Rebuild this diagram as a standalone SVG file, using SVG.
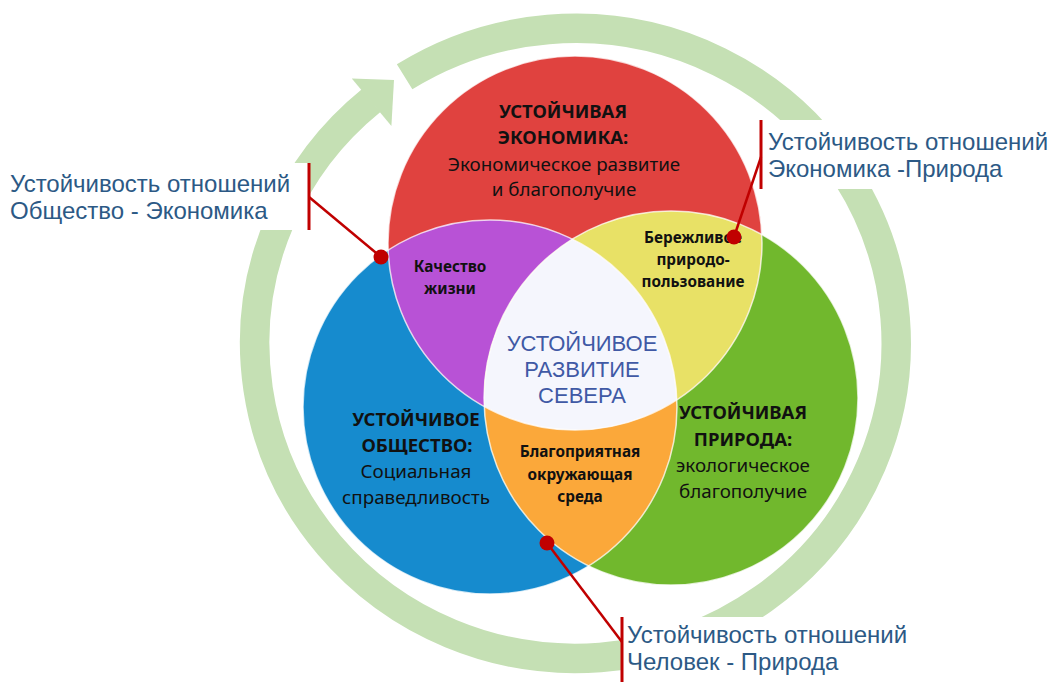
<svg xmlns="http://www.w3.org/2000/svg" width="1054" height="682" viewBox="0 0 1054 682">
<style>
.h{font-family:"Noto Sans","Open Sans",sans-serif;font-weight:700;font-size:18.5px;fill:#111;text-anchor:middle}
.b{font-family:"Noto Sans","Open Sans",sans-serif;font-weight:400;font-size:18.8px;fill:#111;text-anchor:middle}
.i{font-family:"Noto Sans","Open Sans",sans-serif;font-weight:700;font-size:15.3px;fill:#111;text-anchor:middle}
.c{font-family:"Liberation Sans",Arial,sans-serif;font-size:22px;fill:#4059A5;text-anchor:middle}
.l{font-family:"Liberation Sans",Arial,sans-serif;font-size:24px;fill:#2C5985}
.edge{fill:none;stroke:#fff;stroke-opacity:0.75;stroke-width:1.5}
.cl{stroke:#C00000;stroke-width:2.5;fill:none}
.bar{stroke:#C00000;stroke-width:3}
.dot{fill:#C00000}
</style>
<defs>
<clipPath id="clipRed"><circle cx="575" cy="243" r="187"/></clipPath>
<clipPath id="clipBlue"><circle cx="490" cy="407" r="187"/></clipPath>
<clipPath id="clipGreen"><circle cx="671" cy="398" r="187"/></clipPath>
</defs>
<rect width="1054" height="682" fill="#fff"/>
<g id="ring">
<path d="M404.6,76.8 A320.75,315 0 1 1 371.1,100.6" fill="none" stroke="#C5E0B4" stroke-width="29.5"/>
<polygon points="351.8,78.4 394,80 391.4,126.1" fill="#C5E0B4"/>
</g>
<g id="society"><circle cx="490" cy="407" r="187" fill="#168BCE"/></g>
<g id="nature"><circle cx="671" cy="398" r="187" fill="#71B82D"/></g>
<g id="economy"><circle cx="575" cy="243" r="187" fill="#E0423F"/></g>
<g id="quality"><circle cx="575" cy="243" r="187" fill="#B852D6" clip-path="url(#clipBlue)"/></g>
<g id="resource-use"><circle cx="575" cy="243" r="187" fill="#E8E166" clip-path="url(#clipGreen)"/></g>
<g id="environment"><circle cx="490" cy="407" r="187" fill="#FBA83A" clip-path="url(#clipGreen)"/></g>
<g id="center"><g clip-path="url(#clipBlue)"><circle cx="575" cy="243" r="187" fill="#F5F6FD" clip-path="url(#clipGreen)"/></g></g>
<g id="edges">
<circle class="edge" cx="575" cy="243" r="187"/>
<circle class="edge" cx="490" cy="407" r="187"/>
<circle class="edge" cx="671" cy="398" r="187"/>
</g>
<g id="economy-text">
<text class="h" x="563" y="118">УСТОЙЧИВАЯ</text>
<text class="h" x="563" y="144">ЭКОНОМИКА:</text>
<text class="b" x="564" y="171">Экономическое развитие</text>
<text class="b" x="564" y="196">и благополучие</text>
</g>
<g id="quality-text">
<text class="i" x="450" y="272">Качество</text>
<text class="i" x="450" y="294">жизни</text>
</g>
<g id="resource-use-text">
<text class="i" x="693" y="243">Бережливое</text>
<text class="i" x="693" y="265">природо-</text>
<text class="i" x="693" y="287">пользование</text>
</g>
<g id="center-text">
<text class="c" x="582" y="351">УСТОЙЧИВОЕ</text>
<text class="c" x="582" y="377">РАЗВИТИЕ</text>
<text class="c" x="582" y="403">СЕВЕРА</text>
</g>
<g id="society-text">
<text class="h" x="416" y="426">УСТОЙЧИВОЕ</text>
<text class="h" x="417" y="452">ОБЩЕСТВО:</text>
<text class="b" x="416" y="478">Социальная</text>
<text class="b" x="416" y="504">справедливость</text>
</g>
<g id="environment-text">
<text class="i" x="580" y="457">Благоприятная</text>
<text class="i" x="580" y="480">окружающая</text>
<text class="i" x="580" y="502">среда</text>
</g>
<g id="nature-text">
<text class="h" x="743" y="419">УСТОЙЧИВАЯ</text>
<text class="h" x="743" y="446">ПРИРОДА:</text>
<text class="b" x="743" y="472">экологическое</text>
<text class="b" x="743" y="498">благополучие</text>
</g>
<g id="label-society-economy">
<rect x="0" y="163" width="309" height="67" fill="#fff"/>
<text class="l" x="10" y="192">Устойчивость отношений</text>
<text class="l" x="10" y="219">Общество - Экономика</text>
</g>
<g id="label-economy-nature">
<rect x="761" y="120" width="293" height="69" fill="#fff"/>
<text class="l" x="768" y="150">Устойчивость отношений</text>
<text class="l" x="768" y="177">Экономика -Природа</text>
</g>
<g id="label-human-nature">
<rect x="622" y="617" width="315" height="65" fill="#fff"/>
<text class="l" x="627" y="643">Устойчивость отношений</text>
<text class="l" x="627" y="670">Человек - Природа</text>
</g>
<g id="connectors">
<line class="bar" x1="309" y1="163" x2="309" y2="230"/>
<line class="cl" x1="309" y1="197" x2="381" y2="257"/>
<circle class="dot" cx="381" cy="257" r="7.5"/>
<line class="bar" x1="761" y1="120" x2="761" y2="189"/>
<line class="cl" x1="761" y1="157" x2="734" y2="237"/>
<circle class="dot" cx="734" cy="237" r="7.5"/>
<line class="bar" x1="622" y1="617" x2="622" y2="682"/>
<line class="cl" x1="622" y1="642" x2="547" y2="543"/>
<circle class="dot" cx="547" cy="543" r="7.5"/>
</g>
</svg>
